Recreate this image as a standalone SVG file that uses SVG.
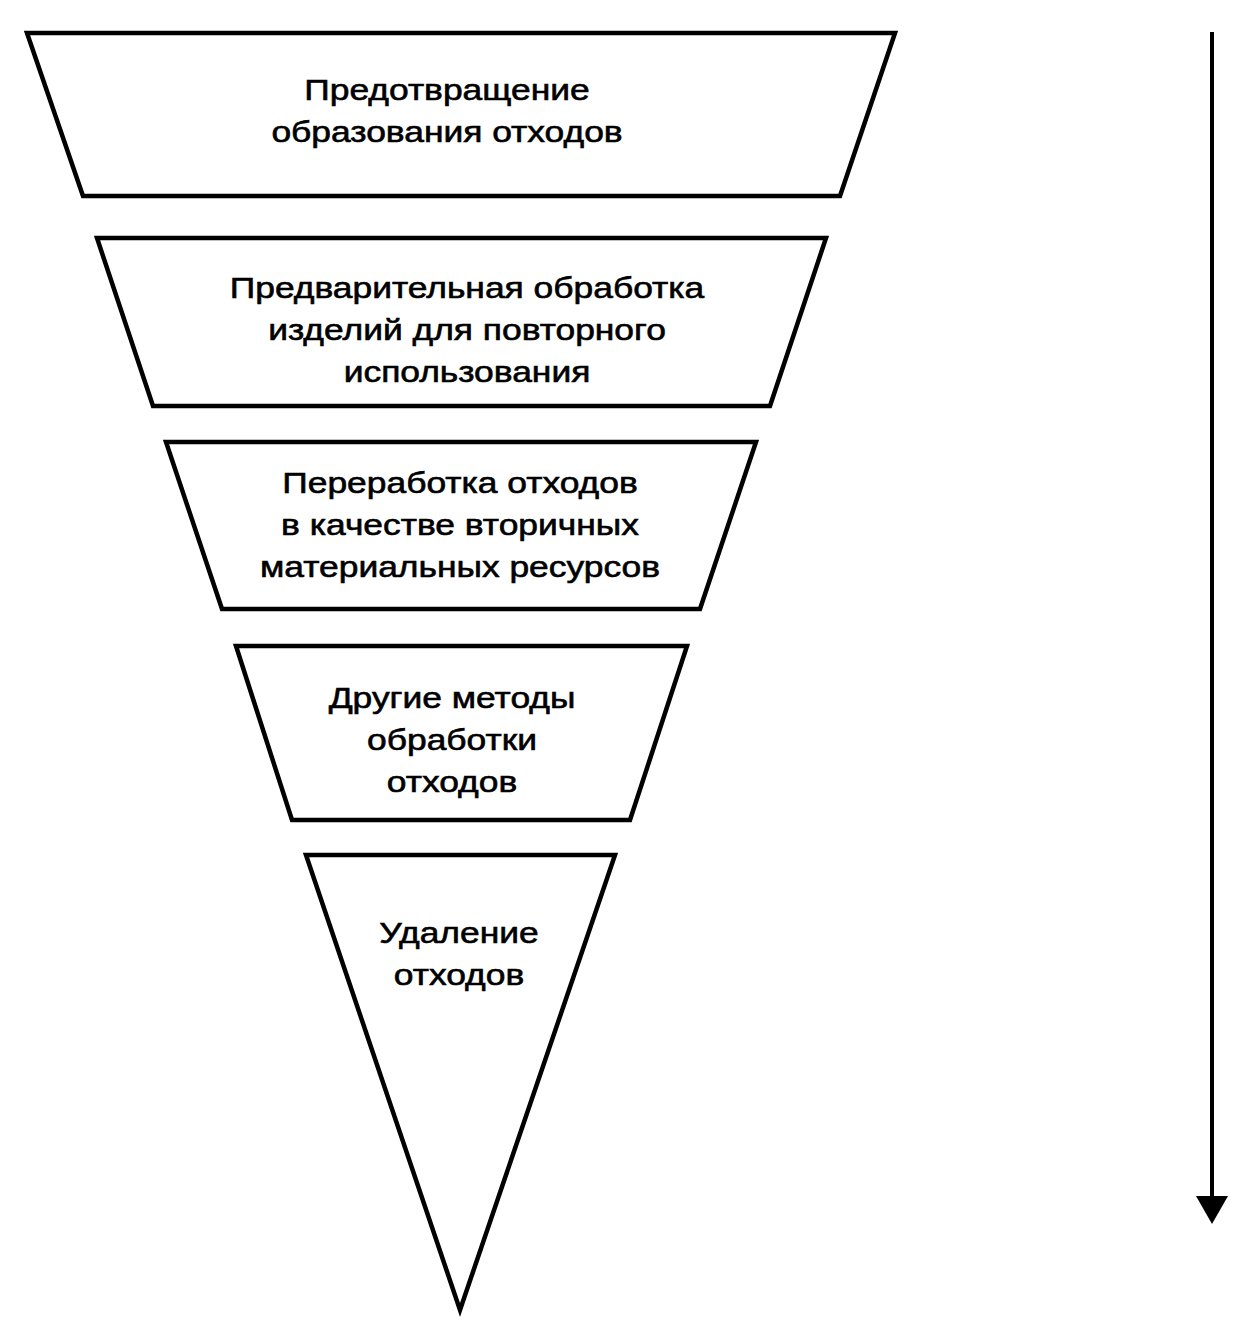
<svg xmlns="http://www.w3.org/2000/svg" width="1246" height="1334" viewBox="0 0 1246 1334">
<style>
.s{fill:#fff;stroke:#000;stroke-width:4.5;stroke-linejoin:miter}
.t{font-family:"Liberation Sans",Arial,sans-serif;font-size:30px;fill:#000;stroke:#000;stroke-width:0.6;text-anchor:middle}
</style>
<defs>
<marker id="ah" markerUnits="userSpaceOnUse" markerWidth="30" markerHeight="34" refX="0" refY="16" orient="auto" viewBox="0 0 30 34">
<path d="M0,0 L28,16 L0,32 Z" fill="#000"/>
</marker>
</defs>
<rect width="1246" height="1334" fill="#fff"/>
<g id="node1">
<polygon class="s" points="27,33 895,33 840,196 83,196"/>
<text class="t" transform="translate(447,100) scale(1.18,1)">Предотвращение</text>
<text class="t" transform="translate(447,142) scale(1.18,1)">образования отходов</text>
</g>
<g id="node2">
<polygon class="s" points="97,238 826,238 770,406 153,406"/>
<text class="t" transform="translate(467,298) scale(1.18,1)">Предварительная обработка</text>
<text class="t" transform="translate(467,340) scale(1.18,1)">изделий для повторного</text>
<text class="t" transform="translate(467,382) scale(1.18,1)">использования</text>
</g>
<g id="node3">
<polygon class="s" points="166,442 756,442 700,609 222,609"/>
<text class="t" transform="translate(460,493) scale(1.18,1)">Переработка отходов</text>
<text class="t" transform="translate(460,535) scale(1.18,1)">в качестве вторичных</text>
<text class="t" transform="translate(460,577) scale(1.18,1)">материальных ресурсов</text>
</g>
<g id="node4">
<polygon class="s" points="236,646 687,646 630,820 292,820"/>
<text class="t" transform="translate(452,708) scale(1.18,1)">Другие методы</text>
<text class="t" transform="translate(452,750) scale(1.18,1)">обработки</text>
<text class="t" transform="translate(452,792) scale(1.18,1)">отходов</text>
</g>
<g id="node5">
<polygon class="s" points="306,855 615,855 460,1310"/>
<text class="t" transform="translate(459,943) scale(1.18,1)">Удаление</text>
<text class="t" transform="translate(459,985) scale(1.18,1)">отходов</text>
</g>
<g id="connectors">
<line x1="1212" y1="32" x2="1212" y2="1196" stroke="#000" stroke-width="4" marker-end="url(#ah)"/>
</g>
</svg>
